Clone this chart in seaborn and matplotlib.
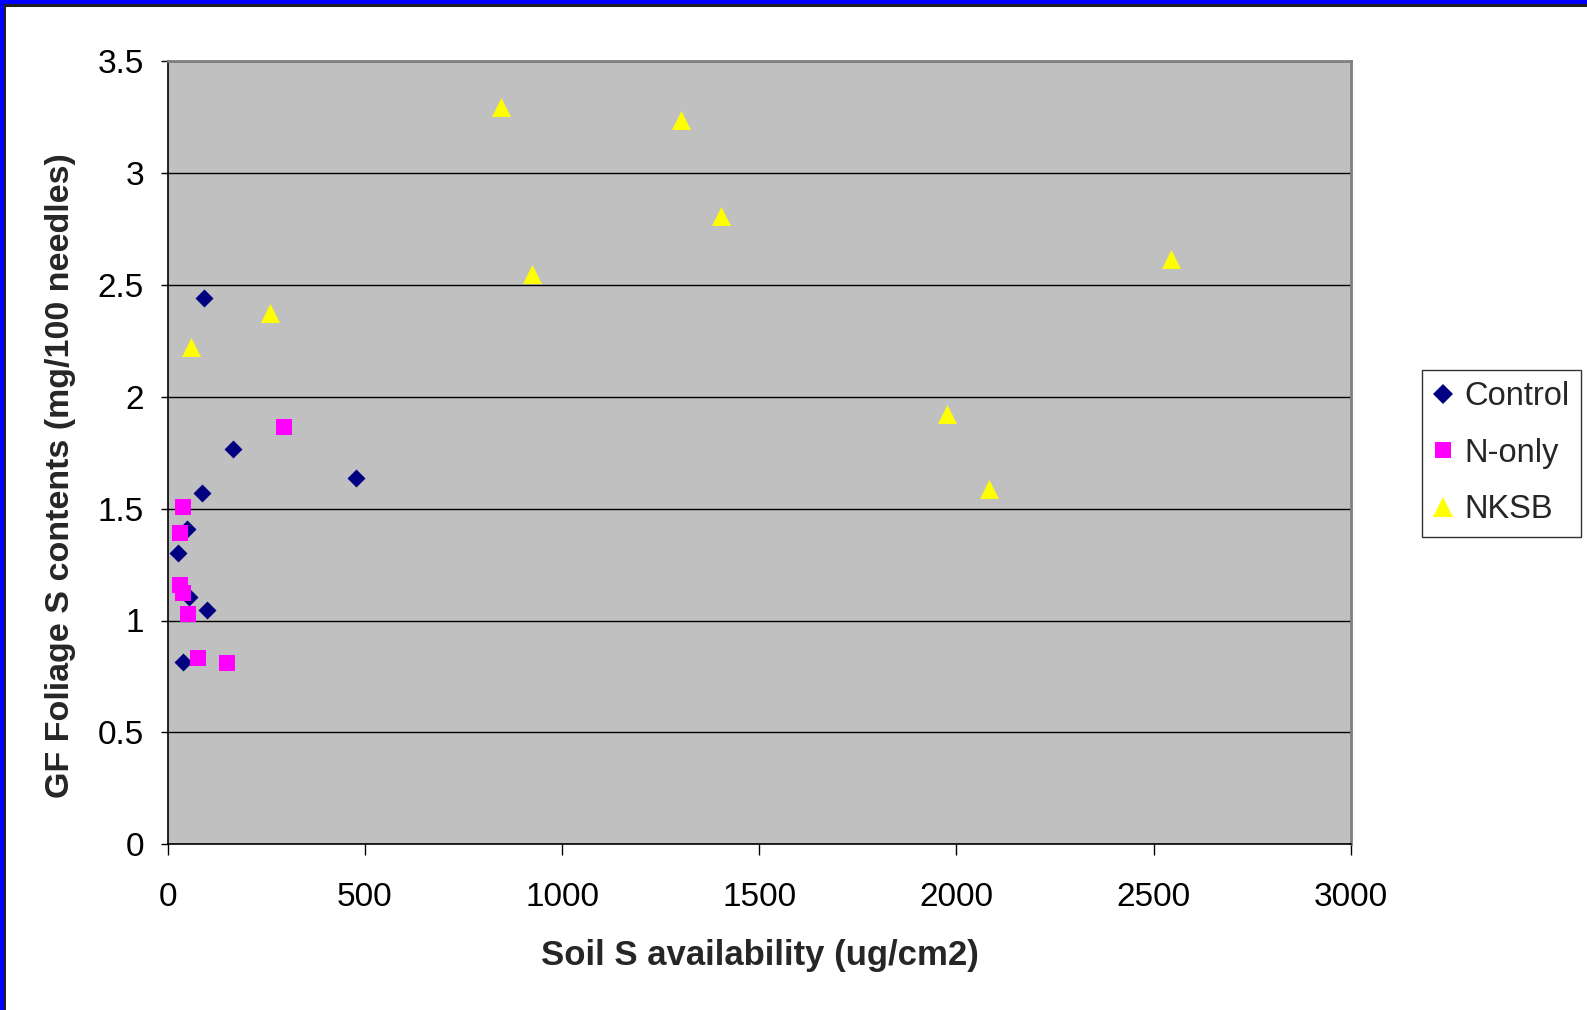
import matplotlib
matplotlib.use("Agg")
import matplotlib.pyplot as plt
import seaborn as sns
import pandas as pd
from matplotlib.patches import Rectangle
from matplotlib.lines import Line2D

# ---- data ----
control_x = [93, 167, 477, 87, 49, 27, 55, 101, 40]
control_y = [2.44, 1.766, 1.638, 1.57, 1.409, 1.302, 1.103, 1.046, 0.814]

nonly_x = [295, 38.5, 31, 31, 38.5, 51, 77, 150]
nonly_y = [1.864, 1.506, 1.39, 1.158, 1.123, 1.03, 0.833, 0.808]

nksb_x = [259, 60, 845, 1302, 1402, 925, 2544, 1977, 2082]
nksb_y = [2.373, 2.221, 3.295, 3.236, 2.807, 2.549, 2.617, 1.921, 1.587]

series_names = ["Control", "N-only", "NKSB"]
x_ticks = [0, 500, 1000, 1500, 2000, 2500, 3000]
y_ticks = [0, 0.5, 1, 1.5, 2, 2.5, 3, 3.5]
x_label = "Soil S availability (ug/cm2)"
y_label = "GF Foliage S contents (mg/100 needles)"

df = pd.concat([
    pd.DataFrame({"x": control_x, "y": control_y, "group": "Control"}),
    pd.DataFrame({"x": nonly_x, "y": nonly_y, "group": "N-only"}),
    pd.DataFrame({"x": nksb_x, "y": nksb_y, "group": "NKSB"}),
], ignore_index=True)

colors = {"Control": "#000080", "N-only": "#FF00FF", "NKSB": "#FFFF00"}
markers = {"Control": "D", "N-only": "s", "NKSB": "^"}
sizes = {"Control": 84, "N-only": 117, "NKSB": 185}

sns.set_theme(style="white")
plt.rcParams["font.family"] = ["Liberation Sans", "DejaVu Sans"]

fig = plt.figure(figsize=(15.87, 10.10), dpi=100)
fig.patch.set_facecolor("white")
ax = fig.add_axes([167.5 / 1587, 1 - 844.3 / 1010, (1351 - 167.5) / 1587, (844.3 - 61) / 1010])
ax.set_facecolor("#C0C0C0")

for g in series_names:
    sub = df[df["group"] == g]
    sns.scatterplot(data=sub, x="x", y="y", ax=ax, color=colors[g], marker=markers[g],
                    s=sizes[g], linewidth=0, legend=False, zorder=3)

ax.set_xlim(0, 3000)
ax.set_ylim(0, 3.5)
ax.set_xticks(x_ticks)
ax.set_yticks(y_ticks)
ax.set_xticklabels([str(t) for t in x_ticks])
ax.set_yticklabels([("%g" % t) for t in y_ticks])
ax.yaxis.grid(True, color="black", linewidth=1.0)
ax.xaxis.grid(False)
ax.set_axisbelow(True)

for side in ["top", "right"]:
    ax.spines[side].set_color("#808080")
    ax.spines[side].set_linewidth(2)
for side in ["left", "bottom"]:
    ax.spines[side].set_color("black")
    ax.spines[side].set_linewidth(1.2)

ax.tick_params(axis="x", which="major", direction="out", length=8, width=1, color="black",
               bottom=True, labelsize=24, pad=19, labelcolor="black")
ax.tick_params(axis="y", which="major", direction="out", length=5, width=1, color="black",
               left=True, labelsize=24, pad=12, labelcolor="black")

ax.set_xlabel("")
ax.set_ylabel("")
fig.text(760 / 1587, 1 - 955 / 1010, x_label, ha="center", va="center",
         fontsize=25, fontweight="bold")
fig.text(61 / 1587, 1 - 476 / 1010, y_label, ha="center", va="center",
         fontsize=24.5, fontweight="bold", rotation=90)

handles = [Line2D([], [], linestyle="none", marker=markers[g], color=colors[g],
                  markersize={"Control": 10, "N-only": 11, "NKSB": 15}[g], markeredgewidth=0)
           for g in series_names]
leg = fig.legend(handles, series_names, loc="upper left",
                 bbox_to_anchor=(1421.7 / 1587, 1 - 370 / 1010),
                 frameon=True, fancybox=False, fontsize=23.5, handlelength=0.6,
                 handletextpad=0.35, borderpad=0.35, labelspacing=0.78, borderaxespad=0)
leg.get_frame().set_edgecolor("black")
leg.get_frame().set_linewidth(1.0)
leg.get_frame().set_facecolor("white")

# blue frame on top and left edges
fig.patches.append(Rectangle((0, 1 - 4 / 1010), 1, 4 / 1010, transform=fig.transFigure,
                             facecolor="#0000FF", edgecolor="none"))
fig.patches.append(Rectangle((0, 1 - 7 / 1010), 1, 3 / 1010, transform=fig.transFigure,
                             facecolor="#202020", edgecolor="none"))
fig.patches.append(Rectangle((0, 0), 3.5 / 1587, 1, transform=fig.transFigure,
                             facecolor="#0000FF", edgecolor="none"))
fig.patches.append(Rectangle((3.5 / 1587, 0), 2 / 1587, 1 - 4 / 1010, transform=fig.transFigure,
                             facecolor="#202020", edgecolor="none"))

fig.savefig("out.png", dpi=100, facecolor="white")
